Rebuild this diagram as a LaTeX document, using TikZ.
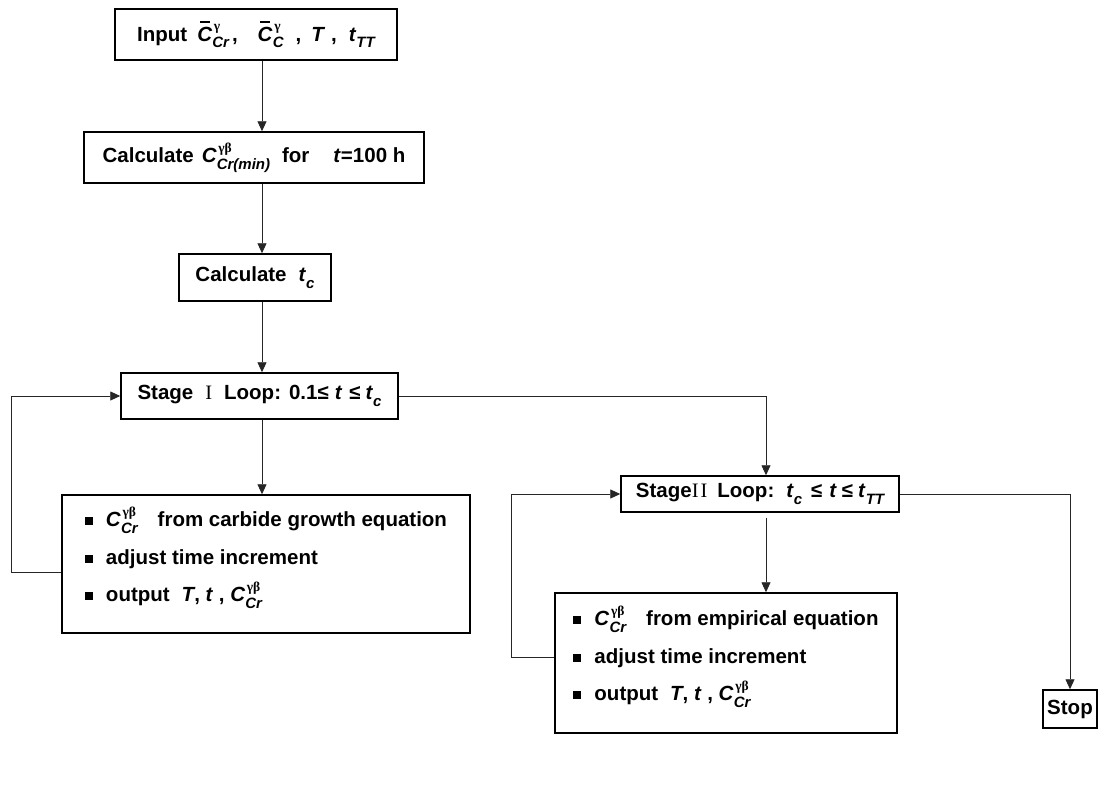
\documentclass[tikz,border=0pt]{standalone}
\usepackage{fontspec}
\setmainfont{Liberation Sans}
\newfontfamily\gk{Liberation Serif}
\usetikzlibrary{arrows.meta}

\newlength\scrw
\newcommand\supf{\gk\fontsize{13.5}{13.5}\selectfont}
\newcommand\subf{\fontsize{15}{15}\selectfont\bfseries\itshape}
\newcommand\scr[2]{%
  \sbox0{\supf\kern1.5pt #1}\sbox2{\subf #2}%
  \ifdim\wd0>\wd2 \setlength\scrw{\wd0}\else\setlength\scrw{\wd2}\fi
  \makebox[\scrw][l]{\rlap{\raisebox{10.5pt}{\usebox0}}\raisebox{-6.5pt}{\usebox2}}}
\newcommand\bC{\makebox[0pt][l]{\hspace{2.5pt}\rule[18.5pt]{10pt}{1.4pt}}\textit{C}}
\newcommand\bul{\rule[1.5pt]{8pt}{8pt}\hspace{13pt}}
\newcommand\lowend{\rule[-20pt]{0pt}{1pt}}

\tikzset{
  box/.style={draw, line width=1.5pt, inner sep=0pt, font=\fontsize{20.5}{24}\selectfont\bfseries},
  list/.style={box, align=left, font=\fontsize{20.5}{37.5}\selectfont\bfseries},
  conn/.style={line width=0.9pt, draw=black!85},
  arr/.style={conn, -{Triangle[length=10pt,width=9pt]}}
}

\begin{document}
\begin{tikzpicture}[x=1pt, y=-1pt]
    \useasboundingbox (0,0) rectangle (1105,803);

        % Main column
        \node[box, minimum width=282, minimum height=51] (inp) at (256,34.5)
            {Input\hspace{10pt}\bC\scr{γ}{Cr}\hspace{3pt},\hspace{20pt}\bC\scr{γ}{C}\hspace{12pt},\hspace{10pt}\textit{T}\hspace{6pt},\hspace{12pt}\textit{t}\scr{}{TT}};
        \node[box, minimum width=340, minimum height=51] (cmin) at (254,157.5)
            {Calculate\hspace{8pt}\textit{C}\scr{γβ}{Cr(min)}\hspace{12pt}for\hspace{24pt}\textit{t}=100 h};
        \node[box, minimum width=152, minimum height=47] (ctc) at (255,277.5)
            {Calculate\hspace{12pt}\textit{t}\scr{}{c}};
        \node[box, minimum width=277, minimum height=46] (st1) at (259.5,396)
            {Stage\hspace{12pt}{\gk\mdseries I}\hspace{12pt}Loop:\hspace{8pt}0.1≤\hspace{6pt}\textit{t}\hspace{7pt}≤\hspace{5pt}\textit{t}\scr{}{c}};
        \node[list, minimum width=408, minimum height=138] (body1) at (266,564)
            {\bul\textit{C}\scr{γβ}{Cr}\hspace{20pt}from carbide growth equation\\
             \bul adjust time increment\\
             \bul output\hspace{12pt}\textit{T}, \textit{t} , \textit{C}\scr{γβ}{Cr}\lowend};

        % Second stage
        \node[box, minimum width=278, minimum height=36] (st2) at (760,494)
            {Stage{\gk\mdseries I\kern2pt I}\hspace{10pt}Loop:\hspace{12pt}\textit{t}\scr{}{c}\hspace{9pt}≤\hspace{7pt}\textit{t}\hspace{5pt}≤\hspace{5pt}\textit{t}\scr{}{TT}};
        \node[list, minimum width=342, minimum height=140] (body2) at (726,663)
            {\bul\textit{C}\scr{γβ}{Cr}\hspace{20pt}from empirical equation\\
             \bul adjust time increment\\
             \bul output\hspace{12pt}\textit{T}, \textit{t} , \textit{C}\scr{γβ}{Cr}\lowend};
        \node[box, minimum width=54, minimum height=38] (stop) at (1070,709) {Stop};

        % Arrows
        \coordinate (ax1) at (262,0);
        \coordinate (ax2) at (766,0);
        \draw[arr] (inp.south -| ax1) -- (cmin.north -| ax1);
        \draw[arr] (cmin.south -| ax1) -- (ctc.north -| ax1);
        \draw[arr] (ctc.south -| ax1) -- (st1.north -| ax1);
        \draw[arr] (st1.south -| ax1) -- (body1.north -| ax1);
        \draw[arr] (st1.east) -| (st2.north -| ax2);
        \draw[arr, shorten <=5pt] (st2.south -| ax2) -- (body2.north -| ax2);
        \draw[arr] (st2.east) -| (stop.north);

        % Loops back
        \draw[arr] ([yshift=-8pt]body1.west) -- ++(-50,0) |- (st1.west);
        \draw[arr] ([yshift=6pt]body2.west) -- ++(-43,0) |- (st2.west);

    \end{tikzpicture}
\end{document}
